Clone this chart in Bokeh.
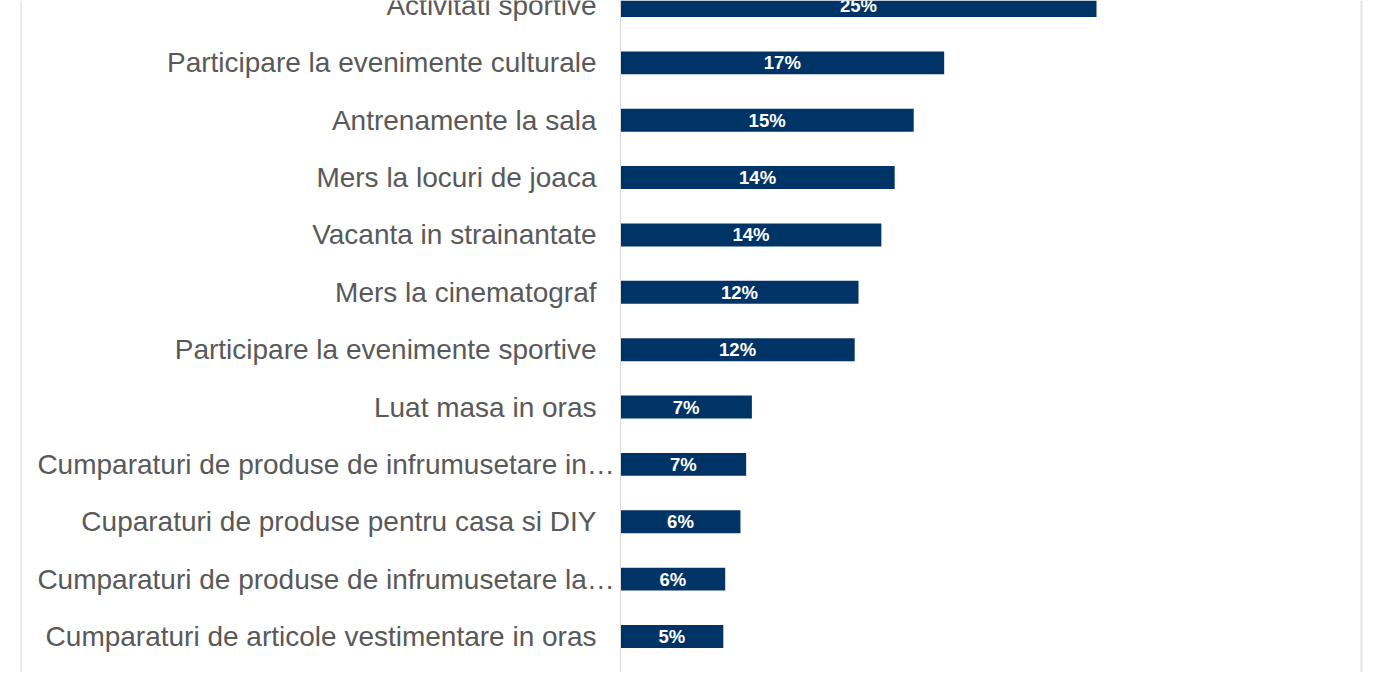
import numpy as np
from bokeh.plotting import figure
from bokeh.models import ColumnDataSource, Range1d, Span
from bokeh.core.properties import value
from bokeh.embed import file_html
from bokeh.resources import INLINE

categories = [
    "Activitati sportive",
    "Participare la evenimente culturale",
    "Antrenamente la sala",
    "Mers la locuri de joaca",
    "Vacanta in strainantate",
    "Mers la cinematograf",
    "Participare la evenimente sportive",
    "Luat masa in oras",
    "Cumparaturi de produse de infrumusetare in\u2026",
    "Cuparaturi de produse pentru casa si DIY",
    "Cumparaturi de produse de infrumusetare la\u2026",
    "Cumparaturi de articole vestimentare in oras",
]
values = [25.0, 17.0, 15.4, 14.4, 13.7, 12.5, 12.3, 6.9, 6.6, 6.3, 5.5, 5.4]
value_labels = ["25%", "17%", "15%", "14%", "14%", "12%", "12%", "7%", "7%", "6%", "6%", "5%"]

n = len(categories)
ypos = [n - 1 - i for i in range(n)]

BAR = "#003366"
GRID = "#d9d9d9"
TXT = "#595959"

px_per_unit = 19.04
row_px = 57.36
W, H = 1370, 672
x_start = (0 - 620) / px_per_unit
x_end = x_start + W / px_per_unit
y_end = 11 + 5 / row_px
y_start = y_end - H / row_px

p = figure(width=W, height=H, output_backend="svg", toolbar_location=None,
           x_range=Range1d(x_start, x_end), y_range=Range1d(y_start, y_end),
           min_border=0, min_border_left=0, min_border_right=0,
           min_border_top=0, min_border_bottom=0)
p.xaxis.visible = False
p.yaxis.visible = False
p.xgrid.visible = False
p.ygrid.visible = False
p.outline_line_color = None
p.background_fill_color = "white"
p.border_fill_color = "white"

label_x = [(-0.3 if c.endswith("\u2026") else -1.26) for c in categories]
src = ColumnDataSource(dict(y=ypos, v=values, mid=[v / 2 for v in values],
                            cat=categories, lab=value_labels, lx=label_x))

p.hbar(y="y", left=0, right="v", height=0.40, source=src,
       fill_color=BAR, line_color=None)

p.text(x="lx", y="y", text="cat", source=src, text_align="right",
       text_baseline="middle", text_color=TXT,
       text_font=value("Liberation Sans"), text_font_size="28px")

p.text(x="mid", y="y", text="lab", source=src, text_align="center",
       text_baseline="middle", text_color="white", text_font_style="bold",
       text_font=value("Liberation Sans"), text_font_size="18.5px")

p.add_layout(Span(location=0, dimension="height", line_color=GRID, line_width=1))
p.add_layout(Span(location=(20.5 - 620) / px_per_unit, dimension="height",
                  line_color="#e3e3e3", line_width=1.5))
p.add_layout(Span(location=(1361 - 620) / px_per_unit, dimension="height",
                  line_color="#e3e3e3", line_width=2))

open("out.html", "w").write(file_html(p, INLINE))
